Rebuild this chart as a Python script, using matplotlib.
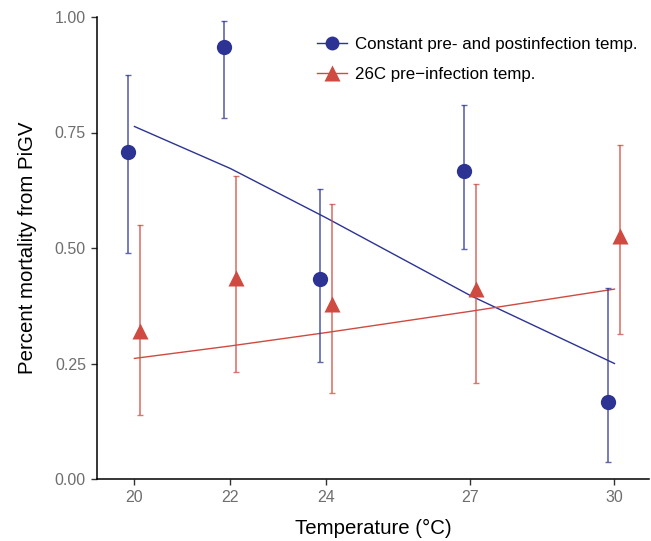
import numpy as np
import matplotlib
matplotlib.use('Agg')
import matplotlib.pyplot as plt
from matplotlib.lines import Line2D

plt.rcParams['font.family'] = ['Liberation Sans', 'DejaVu Sans']

# temperatures tested
temps = [20, 22, 24, 27, 30]

# constant pre- and postinfection temperature
const_mean = [0.708, 0.934, 0.432, 0.667, 0.166]
const_lo = [0.490, 0.781, 0.254, 0.498, 0.036]
const_hi = [0.874, 0.992, 0.627, 0.810, 0.414]
const_fit = [0.763, 0.672, 0.565, 0.397, 0.250]

# 26C pre-infection temperature
pre26_mean = [0.321, 0.436, 0.378, 0.411, 0.526]
pre26_lo = [0.138, 0.232, 0.187, 0.207, 0.313]
pre26_hi = [0.550, 0.656, 0.596, 0.638, 0.723]
pre26_fit = [0.261, 0.288, 0.317, 0.363, 0.411]

blue = '#2c3393'
red = '#cf4a40'
dodge = 0.125

fig = plt.figure(figsize=(6.51, 5.41), dpi=100)
ax = fig.add_axes([97 / 651, 62 / 541, 552 / 651, 462 / 541])

t = np.array(temps, dtype=float)

# fitted curves
ax.plot(t, const_fit, color=blue, lw=1.0, zorder=2)
ax.plot(t, pre26_fit, color=red, lw=1.0, zorder=2)

# confidence intervals
cm = np.array(const_mean)
ax.errorbar(t - dodge, cm, yerr=[cm - np.array(const_lo), np.array(const_hi) - cm],
            fmt='none', ecolor=blue, elinewidth=1.2, capsize=2, capthick=1.0,
            alpha=0.75, zorder=3)
pm = np.array(pre26_mean)
ax.errorbar(t + dodge, pm, yerr=[pm - np.array(pre26_lo), np.array(pre26_hi) - pm],
            fmt='none', ecolor=red, elinewidth=1.2, capsize=2, capthick=1.0,
            alpha=0.75, zorder=3)

# means
ax.plot(t - dodge, const_mean, 'o', color=blue, ms=11, mec='none', zorder=4)
ax.plot(t + dodge, pre26_mean, '^', color=red, ms=12, mec='none', zorder=4)

ax.set_xlim(19.22, 30.72)
ax.set_ylim(0, 1.0)
ax.set_xticks(temps)
ax.set_yticks([0, 0.25, 0.5, 0.75, 1.0])
ax.set_yticklabels(['0.00', '0.25', '0.50', '0.75', '1.00'])

for s in ['top', 'right']:
    ax.spines[s].set_visible(False)
for s in ['left', 'bottom']:
    ax.spines[s].set_linewidth(1.1)
    ax.spines[s].set_color('black')
    ax.spines[s].set_capstyle('projecting')

ax.tick_params(axis='both', direction='out', length=4, width=1.0, color='#333333',
               labelsize=11.5, labelcolor='#6e6e6e', pad=4)

ax.set_xlabel('Temperature (°C)', fontsize=14.7, labelpad=10)
ax.set_ylabel('Percent mortality from PiGV', fontsize=14.7, labelpad=13)

handles = [
    Line2D([], [], color=blue, lw=1.0, marker='o', ms=10, mec='none'),
    Line2D([], [], color=red, lw=1.0, marker='^', ms=11, mec='none'),
]
labels = ['Constant pre- and postinfection temp.', '26C pre\u2212infection temp.']
ax.legend(handles, labels, loc='upper left', bbox_to_anchor=(220 / 552, 1.0 - 20 / 462),
          frameon=False, fontsize=12.2, handlelength=1.75, handletextpad=0.5,
          labelspacing=0.88, borderaxespad=0, borderpad=0)

fig.savefig('out.png', dpi=100)
